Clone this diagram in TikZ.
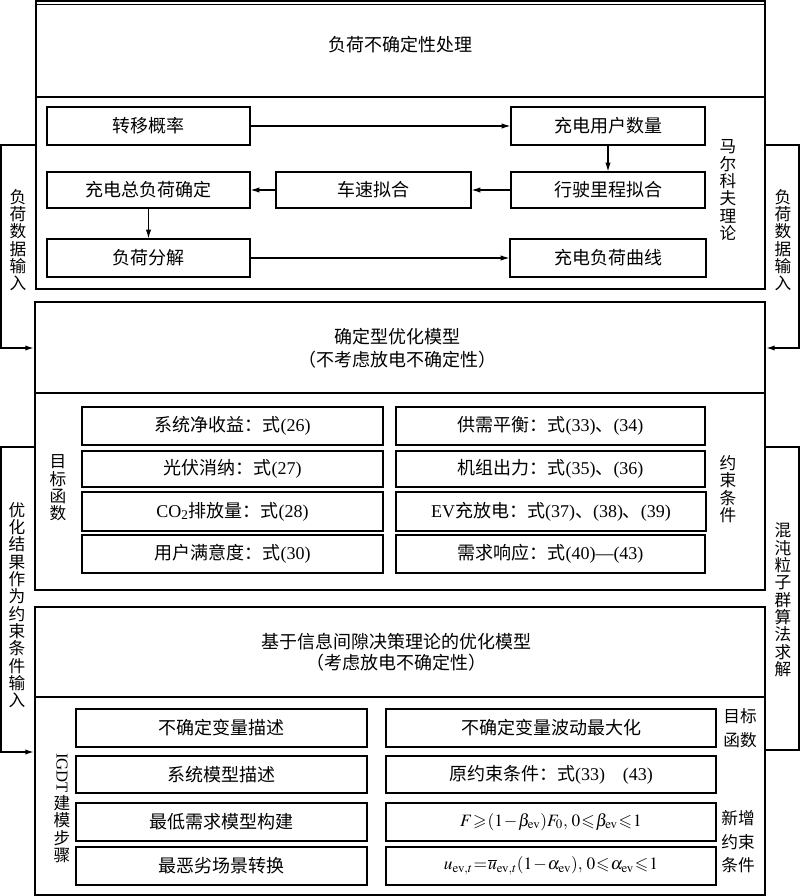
\documentclass[tikz,border=0pt]{standalone}
\usepackage{mathptmx}
\usepackage{amssymb}
\usepackage{graphicx}
\usepackage[no-math]{fontspec}
\setmainfont{Liberation Serif}
\newfontfamily\cjk{Noto Sans CJK SC}
\usetikzlibrary{arrows.meta}
\newcommand\bx[7][]{\node[box,#1,minimum width={(#4-#2)*0.75pt},minimum height={(#5-#3)*0.75pt}] (#6) at ({(#2+#4)/2},{(#3+#5)/2}) {#7};}
\newcommand\tightmath{\thickmuskip=1mu\medmuskip=1mu}
\begin{document}
\begin{tikzpicture}[x=0.75pt,y=-0.75pt,
  box/.style={draw,line width=0.9pt,inner sep=0pt,font=\fontsize{13.5}{16}\selectfont},
  frame/.style={line width=1.6pt},
  ttl/.style={font=\cjk\fontsize{13.5}{16}\selectfont,inner sep=0pt},
  vlab/.style={font=\cjk\fontsize{12.5}{13}\selectfont,align=center,inner sep=0pt},
  hlab/.style={font=\cjk\fontsize{12.5}{17.6}\selectfont,align=center,inner sep=0pt},
  arr/.style={line width=0.8pt,-{Latex[length=6.5pt,width=4pt]}},
  side/.style={line width=1.1pt},
  divl/.style={line width=0.8pt}]
\useasboundingbox (0,0) rectangle (800,896);

% ---------- section frames ----------
\bx[frame]{36}{0.5}{765}{289}{sec1}{}
\bx[frame]{35}{302}{765}{590}{sec2}{}
\bx[frame]{35}{607}{765}{895}{sec3}{}

\coordinate (t5) at (0,4.5);
\draw[divl] (sec1.west |- t5) -- (sec1.east |- t5);
\coordinate (d1) at (0,97);
\coordinate (d2) at (0,393);
\coordinate (d3) at (0,697);
\draw[divl] (sec1.west |- d1) -- (sec1.east |- d1);
\draw[divl] (sec2.west |- d2) -- (sec2.east |- d2);
\draw[divl] (sec3.west |- d3) -- (sec3.east |- d3);

% ---------- titles ----------
\node[ttl] (t1) at (400,45) {负荷不确定性处理};
\node[ttl] (t2a) at (397,337) {确定型优化模型};
\node[ttl] (t2b) at (397,360) {（不考虑放电不确定性）};
\node[ttl] (t3a) at (396,642) {基于信息间隙决策理论的优化模型};
\node[ttl] (t3b) at (396,663) {（考虑放电不确定性）};

% ---------- section 1 boxes ----------
\bx{47}{107}{250}{145}{tp}{\cjk 转移概率}
\bx{511}{107}{705}{145}{yh}{\cjk 充电用户数量}
\bx{47}{172}{250}{208}{zf}{\cjk 充电总负荷确定}
\bx{276}{172}{471}{208}{cs}{\cjk 车速拟合}
\bx{511}{172}{705}{208}{xs}{\cjk 行驶里程拟合}
\bx{47}{239}{250}{277}{fj}{\cjk 负荷分解}
\bx{510}{239}{706}{277}{qx}{\cjk 充电负荷曲线}

\draw[arr] (tp) -- (yh);
\draw[arr] (yh) -- (xs);
\draw[arr] (xs) -- (cs);
\draw[arr] (cs) -- (zf);
\draw[arr] (zf) -- (fj);
\draw[arr] (fj) -- (qx);

\node[vlab] (mk) at (728,190) {马\\尔\\科\\夫\\理\\论};

% ---------- section 2 boxes ----------
\bx{82}{407}{383}{445}{a1}{{\cjk 系统净收益：式}(26)}
\bx{82}{451}{383}{487}{a2}{{\cjk 光伏消纳：式}(27)}
\bx{82}{492}{383}{531}{a3}{CO\textsubscript{2}{\cjk 排放量：式}(28)}
\bx{82}{535}{383}{573}{a4}{{\cjk 用户满意度：式}(30)}
\bx{396}{407}{705}{445}{b1}{{\cjk 供需平衡：式}(33){\cjk 、}(34)}
\bx{396}{451}{705}{487}{b2}{{\cjk 机组出力：式}(35){\cjk 、}(36)}
\bx{396}{492}{706}{531}{b3}{EV{\cjk 充放电：式}(37){\cjk 、}(38){\cjk 、}(39)}
\bx{396}{535}{705}{573}{b4}{{\cjk 需求响应：式}(40)—(43)}

\node[vlab] (mb) at (58,488) {目\\标\\函\\数};
\node[vlab] (yt) at (728,489) {约\\束\\条\\件};

% ---------- section 3 boxes ----------
\bx{76}{709}{367}{747}{c1}{\cjk 不确定变量描述}
\bx{76}{756}{367}{793}{c2}{\cjk 系统模型描述}
\bx{76}{803}{367}{841}{c3}{\cjk 最低需求模型构建}
\bx{76}{847}{367}{885}{c4}{\cjk 最恶劣场景转换}
\bx{386}{709}{716}{747}{e1}{\cjk 不确定变量波动最大化}
\bx{386}{756}{716}{793}{e2}{{\cjk 原约束条件：式}(33)\quad(43)}
\bx[font=\fontsize{13}{16}\selectfont]{386}{803}{716}{841}{e3}{$\tightmath F\geqslant(1-\beta_{\mathrm{ev}})F_0,\,0\leqslant\beta_{\mathrm{ev}}\leqslant1$}
\bx[font=\fontsize{13}{16}\selectfont]{386}{847}{716}{885}{e4}{$\tightmath u_{\mathrm{ev},t}=\overline{u}_{\mathrm{ev},t}(1-\alpha_{\mathrm{ev}}),\,0\leqslant\alpha_{\mathrm{ev}}\leqslant1$}

\node[vlab] (ig) at (62,808) {\rotatebox{-90}{\rmfamily\fontsize{12.5}{13}\selectfont IGDT}\\[1pt]建\\模\\步\\骤};
\node[hlab] (mb3) at (740,728) {目标\\函数};
\node[hlab] (xz) at (738,842) {新增\\约束\\条件};

% ---------- side boxes ----------
\coordinate (y145) at (0,145);
\coordinate (y348) at (0,348);
\coordinate (y447) at (0,447);
\coordinate (y752) at (0,752);
\coordinate (y750) at (0,750);
\coordinate (lx) at (1,0);
\coordinate (rx) at (799,0);
\draw[side,-{Latex[length=6.5pt,width=4pt]}] (sec1.west |- y145) -| (lx |- y348) -- (sec2.west |- y348);
\draw[side,-{Latex[length=6.5pt,width=4pt]}] (sec1.east |- y145) -| (rx |- y348) -- (sec2.east |- y348);
\draw[side,-{Latex[length=6.5pt,width=4pt]}] (sec2.west |- y447) -| (lx |- y752) -- (sec3.west |- y752);
\draw[side] (sec2.east |- y447) -| (rx |- y750) -- (sec3.east |- y750);

\node[vlab] (l1) at (18,240) {负\\荷\\数\\据\\输\\入};
\node[vlab] (r1) at (783,240) {负\\荷\\数\\据\\输\\入};
\node[vlab] (l2) at (17,605) {优\\化\\结\\果\\作\\为\\约\\束\\条\\件\\输\\入};
\node[vlab] (r2) at (783,600) {混\\沌\\粒\\子\\群\\算\\法\\求\\解};
\end{tikzpicture}
\end{document}
